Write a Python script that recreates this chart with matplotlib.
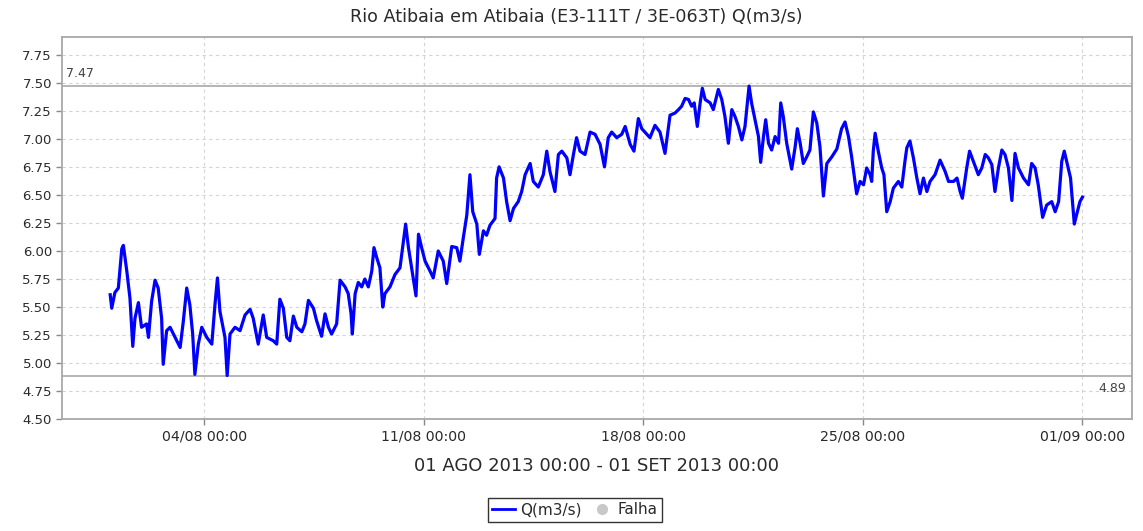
import matplotlib
matplotlib.use("Agg")
import matplotlib.pyplot as plt
import matplotlib.dates as mdates
from matplotlib.lines import Line2D
import pandas as pd

# ---- data (days since 2013-08-01 00:00, flow m3/s) ----
t_days = [0.00,0.05,0.15,0.26,0.37,0.42,0.53,0.63,0.72,0.79,0.90,1.00,1.16,1.22,1.32,1.43,1.53,1.64,1.69,1.80,
          1.91,2.07,2.23,2.33,2.44,2.54,2.63,2.70,2.81,2.92,3.08,3.24,3.34,3.42,3.50,3.66,3.73,3.82,3.98,4.14,
          4.30,4.46,4.56,4.72,4.88,4.99,5.20,5.31,5.41,5.52,5.63,5.73,5.84,5.95,6.11,6.21,6.32,6.48,6.58,6.74,
          6.85,6.96,7.06,7.22,7.33,7.49,7.59,7.68,7.72,7.81,7.91,8.02,8.12,8.23,8.34,8.41,8.50,8.60,8.69,8.76,
          8.92,9.08,9.24,9.35,9.42,9.51,9.61,9.75,9.83,9.93,10.04,10.20,10.30,10.46,10.62,10.73,10.89,11.05,11.15,11.26,
          11.37,11.47,11.56,11.69,11.77,11.90,12.00,12.11,12.27,12.32,12.40,12.54,12.64,12.75,12.86,13.01,13.12,13.23,13.39,13.49,
          13.65,13.81,13.92,14.02,14.18,14.29,14.40,14.56,14.66,14.77,14.87,14.98,15.14,15.30,15.46,15.62,15.76,15.88,15.99,16.15,
          16.31,16.42,16.58,16.70,16.84,16.95,17.11,17.21,17.37,17.53,17.69,17.85,18.01,18.12,18.22,18.33,18.44,18.54,18.62,18.72,
          18.81,18.88,18.97,19.13,19.23,19.39,19.50,19.60,19.71,19.82,19.92,20.03,20.14,20.24,20.37,20.45,20.56,20.67,20.74,20.83,
          20.90,20.99,21.09,21.20,21.31,21.38,21.46,21.57,21.73,21.84,21.91,22.00,22.10,22.21,22.31,22.42,22.53,22.63,22.74,22.85,
          23.01,23.17,23.32,23.43,23.54,23.64,23.80,23.91,24.02,24.12,24.23,24.28,24.33,24.39,24.49,24.60,24.67,24.76,24.87,24.97,
          25.13,25.24,25.34,25.40,25.50,25.61,25.72,25.82,25.93,26.04,26.14,26.30,26.46,26.62,26.73,26.89,27.00,27.10,27.17,27.31,
          27.40,27.52,27.68,27.79,27.90,28.00,28.11,28.21,28.32,28.43,28.53,28.64,28.75,28.85,28.96,29.12,29.28,29.38,29.49,29.59,
          29.73,29.86,30.02,30.13,30.24,30.34,30.42,30.52,30.62,30.74,30.81,30.92,31.00]
q_values = [5.61,5.49,5.63,5.67,6.02,6.05,5.82,5.58,5.15,5.40,5.54,5.32,5.35,5.23,5.55,5.74,5.67,5.40,4.99,5.29,
            5.32,5.23,5.14,5.37,5.67,5.52,5.26,4.90,5.17,5.32,5.23,5.17,5.52,5.76,5.46,5.23,4.89,5.26,5.32,5.29,
            5.43,5.48,5.40,5.17,5.43,5.23,5.20,5.17,5.57,5.49,5.23,5.20,5.42,5.32,5.28,5.35,5.56,5.49,5.38,5.24,
            5.44,5.32,5.26,5.35,5.74,5.68,5.62,5.44,5.26,5.62,5.72,5.68,5.75,5.68,5.82,6.03,5.94,5.85,5.50,5.62,
            5.68,5.79,5.85,6.09,6.24,6.03,5.85,5.60,6.15,6.03,5.91,5.82,5.76,6.00,5.91,5.71,6.04,6.03,5.91,6.12,
            6.32,6.68,6.35,6.24,5.97,6.18,6.14,6.23,6.29,6.65,6.75,6.65,6.44,6.27,6.38,6.44,6.53,6.68,6.78,6.62,
            6.57,6.68,6.89,6.71,6.53,6.86,6.89,6.83,6.68,6.86,7.01,6.89,6.86,7.06,7.04,6.95,6.75,7.01,7.06,7.01,
            7.04,7.11,6.95,6.89,7.18,7.09,7.04,7.01,7.12,7.06,6.87,7.21,7.23,7.26,7.29,7.36,7.35,7.29,7.32,7.11,
            7.32,7.45,7.35,7.32,7.26,7.44,7.35,7.20,6.96,7.26,7.20,7.11,6.99,7.11,7.47,7.32,7.17,7.02,6.79,7.02,
            7.17,6.96,6.90,7.02,6.96,7.32,7.20,6.96,6.73,6.93,7.09,6.96,6.78,6.84,6.90,7.24,7.14,6.93,6.49,6.78,
            6.84,6.91,7.09,7.15,7.02,6.84,6.51,6.62,6.59,6.74,6.68,6.62,6.89,7.05,6.89,6.74,6.68,6.35,6.44,6.56,
            6.62,6.57,6.80,6.92,6.98,6.83,6.65,6.51,6.65,6.53,6.62,6.68,6.81,6.71,6.62,6.62,6.65,6.53,6.47,6.74,
            6.89,6.80,6.68,6.74,6.86,6.83,6.77,6.53,6.74,6.90,6.86,6.74,6.45,6.87,6.74,6.65,6.59,6.78,6.74,6.59,
            6.30,6.41,6.44,6.35,6.44,6.80,6.89,6.77,6.65,6.24,6.32,6.44,6.48]
max_value = 7.47
min_value = 4.89
title = "Rio Atibaia em Atibaia (E3-111T / 3E-063T) Q(m3/s)"
period_label = "01 AGO 2013 00:00 - 01 SET 2013 00:00"
series_name = "Q(m3/s)"
fail_name = "Falha"
y_ticks = [4.50, 4.75, 5.00, 5.25, 5.50, 5.75, 6.00, 6.25, 6.50, 6.75, 7.00, 7.25, 7.50, 7.75]
x_tick_dates = ["2013-08-04", "2013-08-11", "2013-08-18", "2013-08-25", "2013-09-01"]

start = pd.Timestamp("2013-08-01 00:00")
times = [start + pd.Timedelta(days=d) for d in t_days]

plt.rcParams['font.family'] = ['DejaVu Sans']
fig = plt.figure(figsize=(11.43, 5.31), dpi=100)
ax = fig.add_axes([62.3/1143, 1-419.3/531, (1131.7-62.3)/1143, (419.3-36.7)/531])

ax.plot(times, q_values, color="#0000ff", lw=2.3, solid_joinstyle="round")

ax.axhline(max_value, color="#b4b4b4", lw=1.4, zorder=1)
ax.axhline(min_value, color="#b4b4b4", lw=1.4, zorder=1)
ax.text(0.003, max_value + 0.05, f"{max_value:.2f}", transform=ax.get_yaxis_transform(),
        ha="left", va="bottom", fontsize=9, color="#444444")
ax.text(0.995, min_value - 0.06, f"{min_value:.2f}", transform=ax.get_yaxis_transform(),
        ha="right", va="top", fontsize=9, color="#444444")

ax.set_xlim(start - pd.Timedelta(days=1.527), start + pd.Timedelta(days=32.57))
ax.set_ylim(4.50, 7.91)
ax.set_yticks(y_ticks)
ax.set_yticklabels([f"{v:.2f}" for v in y_ticks])
ax.set_xticks([pd.Timestamp(d) for d in x_tick_dates])
ax.xaxis.set_major_formatter(mdates.DateFormatter("%d/%m %H:%M"))

ax.grid(True, color="#d4d4d4", lw=0.8, linestyle=(0, (3, 3)))
ax.set_axisbelow(True)
for s in ax.spines.values():
    s.set_color("#a8a8a8")
    s.set_linewidth(1.3)
ax.tick_params(axis="both", colors="#888888", labelcolor="#2a2a2a", labelsize=9.5,
               length=4, width=1, direction="out")
ax.tick_params(axis="x", labelsize=10.2)

fig.text(576/1143, 1-17/531, title, ha="center", va="center", fontsize=12.6, color="#2a2a2a")
fig.text(597/1143, 1-466/531, period_label, ha="center", va="center", fontsize=13, color="#2a2a2a")

handles = [Line2D([], [], color="#0000ff", lw=2),
           Line2D([], [], color="#c8c8c8", marker="o", lw=0, markersize=7)]
leg = fig.legend(handles, [series_name, fail_name], loc="center", bbox_to_anchor=(575/1143, 1-510/531),
                 ncol=2, frameon=True, fancybox=False, edgecolor="black", fontsize=11,
                 handlelength=1.5, handletextpad=0.3, columnspacing=0.6, borderpad=0.3,
                 borderaxespad=0)
leg.get_frame().set_linewidth(1.0)
for txt in leg.get_texts():
    txt.set_color("#2a2a2a")

fig.savefig("out.png", dpi=100)
